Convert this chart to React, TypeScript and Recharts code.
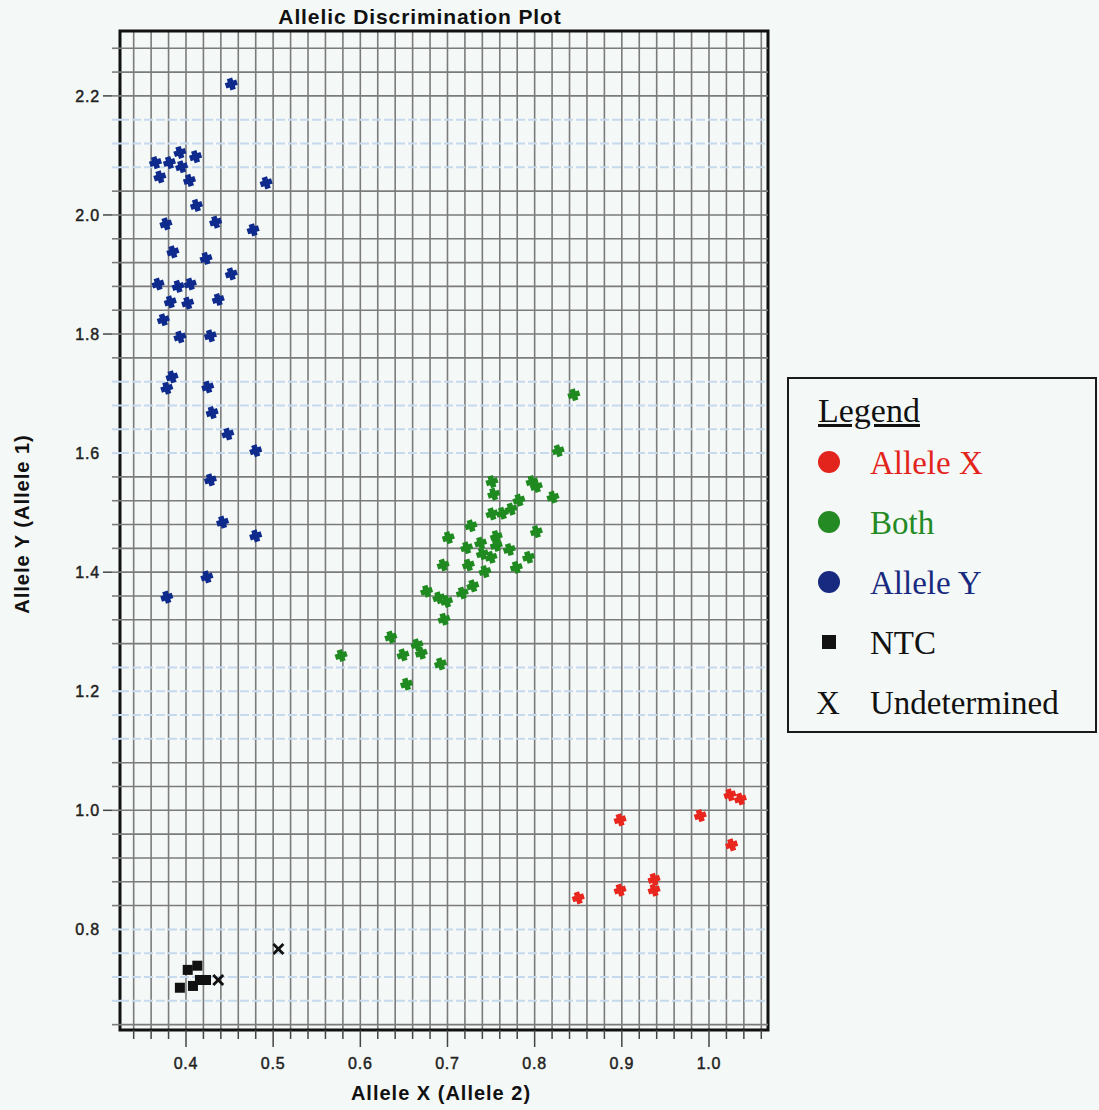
import React from 'react';
import { ScatterChart, Scatter, XAxis, YAxis, CartesianGrid, ReferenceLine, ReferenceArea } from 'recharts';

// ---- data (Allele X value, Allele Y value) ----
const alleleXPoints = [
  { x: 0.850, y: 0.853 }, { x: 0.898, y: 0.866 }, { x: 0.898, y: 0.984 },
  { x: 0.937, y: 0.866 }, { x: 0.937, y: 0.884 }, { x: 0.990, y: 0.991 },
  { x: 1.024, y: 1.026 }, { x: 1.036, y: 1.019 }, { x: 1.026, y: 0.942 },
];

const bothPoints = [
  { x: 0.845, y: 1.698 }, { x: 0.827, y: 1.604 }, { x: 0.751, y: 1.552 }, { x: 0.753, y: 1.531 },
  { x: 0.797, y: 1.552 }, { x: 0.802, y: 1.544 }, { x: 0.821, y: 1.526 }, { x: 0.782, y: 1.521 },
  { x: 0.773, y: 1.506 }, { x: 0.763, y: 1.499 }, { x: 0.751, y: 1.498 }, { x: 0.727, y: 1.478 },
  { x: 0.802, y: 1.468 }, { x: 0.701, y: 1.458 }, { x: 0.756, y: 1.460 }, { x: 0.738, y: 1.449 },
  { x: 0.756, y: 1.445 }, { x: 0.722, y: 1.441 }, { x: 0.771, y: 1.438 }, { x: 0.793, y: 1.425 },
  { x: 0.740, y: 1.431 }, { x: 0.750, y: 1.425 }, { x: 0.695, y: 1.412 }, { x: 0.724, y: 1.412 },
  { x: 0.779, y: 1.408 }, { x: 0.743, y: 1.401 }, { x: 0.729, y: 1.377 }, { x: 0.676, y: 1.368 },
  { x: 0.717, y: 1.365 }, { x: 0.690, y: 1.357 }, { x: 0.699, y: 1.351 }, { x: 0.696, y: 1.321 },
  { x: 0.635, y: 1.291 }, { x: 0.665, y: 1.278 }, { x: 0.649, y: 1.261 }, { x: 0.670, y: 1.264 },
  { x: 0.578, y: 1.260 }, { x: 0.692, y: 1.246 }, { x: 0.653, y: 1.212 },
];

const alleleYPoints = [
  { x: 0.452, y: 2.220 }, { x: 0.365, y: 2.088 }, { x: 0.381, y: 2.088 }, { x: 0.393, y: 2.105 },
  { x: 0.395, y: 2.081 }, { x: 0.411, y: 2.098 }, { x: 0.370, y: 2.064 }, { x: 0.404, y: 2.058 },
  { x: 0.412, y: 2.016 }, { x: 0.377, y: 1.985 }, { x: 0.434, y: 1.988 }, { x: 0.385, y: 1.938 },
  { x: 0.423, y: 1.927 }, { x: 0.452, y: 1.901 }, { x: 0.368, y: 1.884 }, { x: 0.391, y: 1.880 },
  { x: 0.405, y: 1.884 }, { x: 0.382, y: 1.854 }, { x: 0.402, y: 1.852 }, { x: 0.437, y: 1.858 },
  { x: 0.374, y: 1.824 }, { x: 0.393, y: 1.795 }, { x: 0.428, y: 1.797 }, { x: 0.477, y: 1.975 },
  { x: 0.492, y: 2.054 }, { x: 0.378, y: 1.709 }, { x: 0.384, y: 1.728 }, { x: 0.425, y: 1.711 },
  { x: 0.430, y: 1.668 }, { x: 0.448, y: 1.632 }, { x: 0.480, y: 1.604 }, { x: 0.428, y: 1.555 },
  { x: 0.442, y: 1.484 }, { x: 0.480, y: 1.461 }, { x: 0.424, y: 1.392 }, { x: 0.378, y: 1.358 },
];

const ntcPoints = [
  { x: 0.393, y: 0.702 }, { x: 0.402, y: 0.732 }, { x: 0.413, y: 0.739 },
  { x: 0.408, y: 0.705 }, { x: 0.416, y: 0.715 }, { x: 0.423, y: 0.715 },
];

const undeterminedPoints = [
  { x: 0.506, y: 0.767 }, { x: 0.437, y: 0.715 },
];

// ---- axes ----
const xDomain = [0.3243, 1.0677];
const yDomain = [0.631, 2.309];
const xTicks = [0.34, 0.36, 0.38, 0.40, 0.42, 0.44, 0.46, 0.48, 0.50, 0.52, 0.54, 0.56, 0.58, 0.60,
  0.62, 0.64, 0.66, 0.68, 0.70, 0.72, 0.74, 0.76, 0.78, 0.80, 0.82, 0.84, 0.86, 0.88, 0.90, 0.92,
  0.94, 0.96, 0.98, 1.00, 1.02, 1.04, 1.06];
const xTickLabels = [0.4, 0.5, 0.6, 0.7, 0.8, 0.9, 1.0];
const darkGridY = [0.64, 0.84, 0.88, 0.92, 0.96, 1.00, 1.04, 1.08, 1.28, 1.32, 1.36, 1.40, 1.44,
  1.48, 1.52, 1.56, 1.76, 1.80, 1.84, 1.88, 1.92, 1.96, 2.00, 2.04, 2.20, 2.24, 2.28];
const lightGridY = [0.68, 0.72, 0.76, 0.80, 1.12, 1.16, 1.20, 1.24, 1.60, 1.64, 1.68, 1.72,
  2.08, 2.12, 2.16];
const yTicks = [0.64, 0.68, 0.72, 0.76, 0.80, 0.84, 0.88, 0.92, 0.96, 1.00, 1.04, 1.08, 1.12, 1.16,
  1.20, 1.24, 1.28, 1.32, 1.36, 1.40, 1.44, 1.48, 1.52, 1.56, 1.60, 1.64, 1.68, 1.72, 1.76, 1.80,
  1.84, 1.88, 1.92, 1.96, 2.00, 2.04, 2.08, 2.12, 2.16, 2.20, 2.24, 2.28];
const yTickLabels = [0.8, 1.0, 1.2, 1.4, 1.6, 1.8, 2.0, 2.2];

const legendItems = [
  { label: 'Allele X', color: '#e3241c', kind: 'circle' },
  { label: 'Both', color: '#248a24', kind: 'circle' },
  { label: 'Allele Y', color: '#182a80', kind: 'circle' },
  { label: 'NTC', color: '#111111', kind: 'square' },
  { label: 'Undetermined', color: '#111111', kind: 'x' },
];

const BG = '#f4f8f6';
const DARK = '#7b7b7b';
const LIGHT = '#c6d9ee';
const SANS = '"Liberation Sans", Arial, Helvetica, sans-serif';
const SERIF = '"Liberation Serif", "Times New Roman", serif';

const near = (a: number, list: number[]) => list.some((v) => Math.abs(v - a) < 1e-6);

const plusShape = (color: string) => (props: any) => {
  const { cx, cy } = props;
  if (cx == null || cy == null) return <g />;
  const d = `M${cx - 2.8},${cy - 6} h5.6 v3.2 h3.2 v5.6 h-3.2 v3.2 h-5.6 v-3.2 h-3.2 v-5.6 h3.2 z`;
  return <path d={d} fill={color} transform={`rotate(-18 ${cx} ${cy})`} />;
};

const squareShape = (props: any) => {
  const { cx, cy } = props;
  if (cx == null || cy == null) return <g />;
  return <rect x={cx - 5} y={cy - 5} width={10} height={10} fill="#111" />;
};

const crossShape = (props: any) => {
  const { cx, cy } = props;
  if (cx == null || cy == null) return <g />;
  return (
    <g stroke="#111" strokeWidth={2.8}>
      <line x1={cx - 5} y1={cy - 5} x2={cx + 5} y2={cy + 5} />
      <line x1={cx - 5} y1={cy + 5} x2={cx + 5} y2={cy - 5} />
    </g>
  );
};

const XTick = (props: any) => {
  const { x, y, payload } = props;
  const v = payload.value;
  const major = near(v, xTickLabels);
  return (
    <g>
      <line x1={x} x2={x} y1={y} y2={y + (major ? 17 : 9)} stroke="#444" strokeWidth={1.5} />
      {major && (
        <text x={x} y={y + 39} textAnchor="middle" fontFamily={SANS} fontSize={16} fill="#222"
          stroke="#222" strokeWidth={0.45} letterSpacing={0.8}>
          {v.toFixed(1)}
        </text>
      )}
    </g>
  );
};

const YTick = (props: any) => {
  const { x, y, payload } = props;
  const v = payload.value;
  const major = near(v, yTickLabels);
  const light = near(v, lightGridY);
  return (
    <g>
      <line x1={x - 8} x2={x} y1={y} y2={y} stroke={light ? LIGHT : DARK} strokeWidth={light ? 2 : 1.6} />
      {major && !light && <line x1={x - 17} x2={x - 8} y1={y} y2={y} stroke="#444" strokeWidth={1.5} />}
      {major && (
        <text x={x - 20} y={y + 6} textAnchor="end" fontFamily={SANS} fontSize={16} fill="#222"
          stroke="#222" strokeWidth={0.45} letterSpacing={0.8}>
          {v.toFixed(1)}
        </text>
      )}
    </g>
  );
};

export default function App() {
  return (
    <div style={{ position: 'absolute', left: 0, top: 0, width: 1099, height: 1110, background: BG, overflow: 'hidden' }}>
      <div style={{ position: 'absolute', left: 420, top: 5, transform: 'translateX(-50%)', fontFamily: SANS, fontWeight: 'bold', fontSize: 21, letterSpacing: 0.9, whiteSpace: 'nowrap', color: '#111' }}>
        Allelic Discrimination Plot
      </div>
      <ScatterChart width={1099} height={1110} margin={{ top: 31, right: 331, bottom: 0, left: 0 }} style={{ position: 'absolute', left: 0, top: 0 }}>
        <CartesianGrid horizontal={false} vertical={true} stroke={DARK} strokeWidth={1.6} />
        <XAxis type="number" dataKey="x" domain={xDomain} allowDataOverflow ticks={xTicks} interval={0}
          height={80} tickSize={0} tickMargin={0} axisLine={false} tickLine={false} tick={<XTick />} />
        <YAxis type="number" dataKey="y" domain={yDomain} allowDataOverflow ticks={yTicks} interval={0}
          width={120} tickSize={0} tickMargin={0} axisLine={false} tickLine={false} tick={<YTick />} />
        {darkGridY.map((v) => (
          <ReferenceLine key={'d' + v} y={v} stroke={DARK} strokeWidth={1.6} ifOverflow="visible" />
        ))}
        {lightGridY.map((v) => (
          <ReferenceLine key={'l' + v} y={v} stroke={LIGHT} strokeWidth={2} strokeDasharray="9 3" ifOverflow="visible" />
        ))}
        <ReferenceArea x1={xDomain[0]} x2={xDomain[1]} y1={yDomain[0]} y2={yDomain[1]} fill="none" fillOpacity={0}
          stroke="#111" strokeWidth={3} ifOverflow="visible" />
        <Scatter name="Allele X" data={alleleXPoints} shape={plusShape('#e8261e')} isAnimationActive={false} />
        <Scatter name="Both" data={bothPoints} shape={plusShape('#1f8a1f')} isAnimationActive={false} />
        <Scatter name="Allele Y" data={alleleYPoints} shape={plusShape('#0d2a8c')} isAnimationActive={false} />
        <Scatter name="NTC" data={ntcPoints} shape={squareShape} isAnimationActive={false} />
        <Scatter name="Undetermined" data={undeterminedPoints} shape={crossShape} isAnimationActive={false} />
      </ScatterChart>
      <div style={{ position: 'absolute', left: 22, top: 524, transform: 'translate(-50%, -50%) rotate(-90deg)', transformOrigin: 'center', fontFamily: SANS, fontWeight: 'bold', fontSize: 20, letterSpacing: 1, whiteSpace: 'nowrap', color: '#111' }}>
        Allele Y (Allele 1)
      </div>
      <div style={{ position: 'absolute', left: 441, top: 1082, transform: 'translateX(-50%)', fontFamily: SANS, fontWeight: 'bold', fontSize: 20, letterSpacing: 1, whiteSpace: 'nowrap', color: '#111' }}>
        Allele X (Allele 2)
      </div>
      <div style={{ position: 'absolute', left: 787, top: 377, width: 310, height: 356, border: '2px solid #1a1a1a', boxSizing: 'border-box', background: BG, fontFamily: SERIF, fontSize: 33, color: '#111' }}>
        <div style={{ position: 'absolute', left: 29, top: 12, textDecoration: 'underline', lineHeight: '40px', fontSize: 34 }}>Legend</div>
        {legendItems.map((it, i) => (
          <div key={it.label} style={{ position: 'absolute', left: 0, top: 64 + i * 60, height: 40, width: 300 }}>
            {it.kind === 'circle' && (
              <div style={{ position: 'absolute', left: 29, top: 8, width: 22, height: 22, borderRadius: 11, background: it.color }} />
            )}
            {it.kind === 'square' && (
              <div style={{ position: 'absolute', left: 33, top: 12, width: 14, height: 14, background: it.color }} />
            )}
            {it.kind === 'x' && (
              <div style={{ position: 'absolute', left: 27, top: 0, lineHeight: '40px', color: it.color }}>X</div>
            )}
            <div style={{ position: 'absolute', left: 81, top: 0, lineHeight: '40px', color: it.color, whiteSpace: 'nowrap' }}>{it.label}</div>
          </div>
        ))}
      </div>
    </div>
  );
}
